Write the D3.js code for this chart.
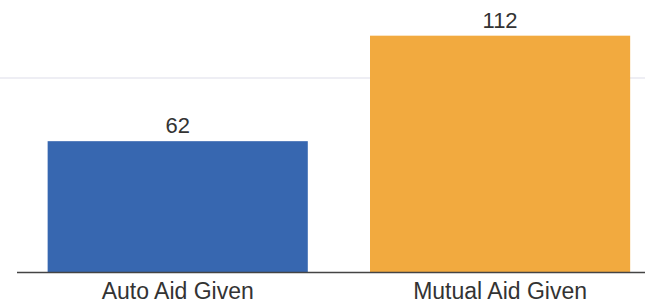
<!DOCTYPE html>
<html>
<head>
<meta charset="utf-8">
<script src="https://cdn.jsdelivr.net/npm/d3@7"></script>
<style>
  body { margin: 0; background: #fff; }
  text { font-family: "Liberation Sans", Arial, sans-serif; }
</style>
</head>
<body>
<div id="plot"></div>
<script>
// Chart data
const categories = ["Auto Aid Given", "Mutual Aid Given"];
const values = [62, 112];
const barColors = ["#3767b0", "#f2aa3f"];
const gridValues = [92]; // faint line seen in the scan

const width = 645;
const height = 306;

const svg = d3.select("#plot").append("svg")
  .attr("width", width)
  .attr("height", height)
  .style("background-color", "white");

// x: band scale for the two bars
const xScale = d3.scaleBand()
  .domain(categories)
  .range([15.4, 662.4])
  .paddingInner(0.193)
  .paddingOuter(0.1);

// y: linear, zero at the baseline
const yScale = d3.scaleLinear()
  .domain([0, 120])
  .range([272, 18.8]);

// faint grid line
svg.selectAll(".grid")
  .data(gridValues)
  .enter()
  .append("line")
  .attr("class", "grid")
  .attr("x1", 0)
  .attr("x2", width)
  .attr("y1", d => yScale(d))
  .attr("y2", d => yScale(d))
  .attr("stroke", "#eeeef4")
  .attr("stroke-width", 2);

// bars
svg.selectAll("rect")
  .data(values)
  .enter()
  .append("rect")
  .attr("x", (d, i) => xScale(categories[i]))
  .attr("y", d => yScale(d))
  .attr("width", xScale.bandwidth())
  .attr("height", d => yScale(0) - yScale(d))
  .attr("fill", (d, i) => barColors[i]);

// value labels
svg.selectAll(".val")
  .data(values)
  .enter()
  .append("text")
  .attr("class", "val")
  .attr("x", (d, i) => xScale(categories[i]) + xScale.bandwidth() / 2)
  .attr("y", d => yScale(d) - 8)
  .attr("text-anchor", "middle")
  .attr("font-size", 22)
  .attr("fill", "#333")
  .text(d => d);

// x axis (baseline + category labels)
const xAxis = d3.axisBottom(xScale).tickSize(0).tickPadding(11);
const xAxisGroup = svg.append("g")
  .attr("transform", `translate(0,${yScale(0)})`)
  .call(xAxis);
xAxisGroup.select(".domain")
  .attr("d", `M17,0.5H${width}`)
  .attr("stroke", "#444")
  .attr("stroke-width", 1.5);
xAxisGroup.selectAll("text")
  .attr("font-size", 23)
  .attr("font-family", "Liberation Sans, Arial, sans-serif")
  .attr("fill", "#333");
</script>
</body>
</html>
